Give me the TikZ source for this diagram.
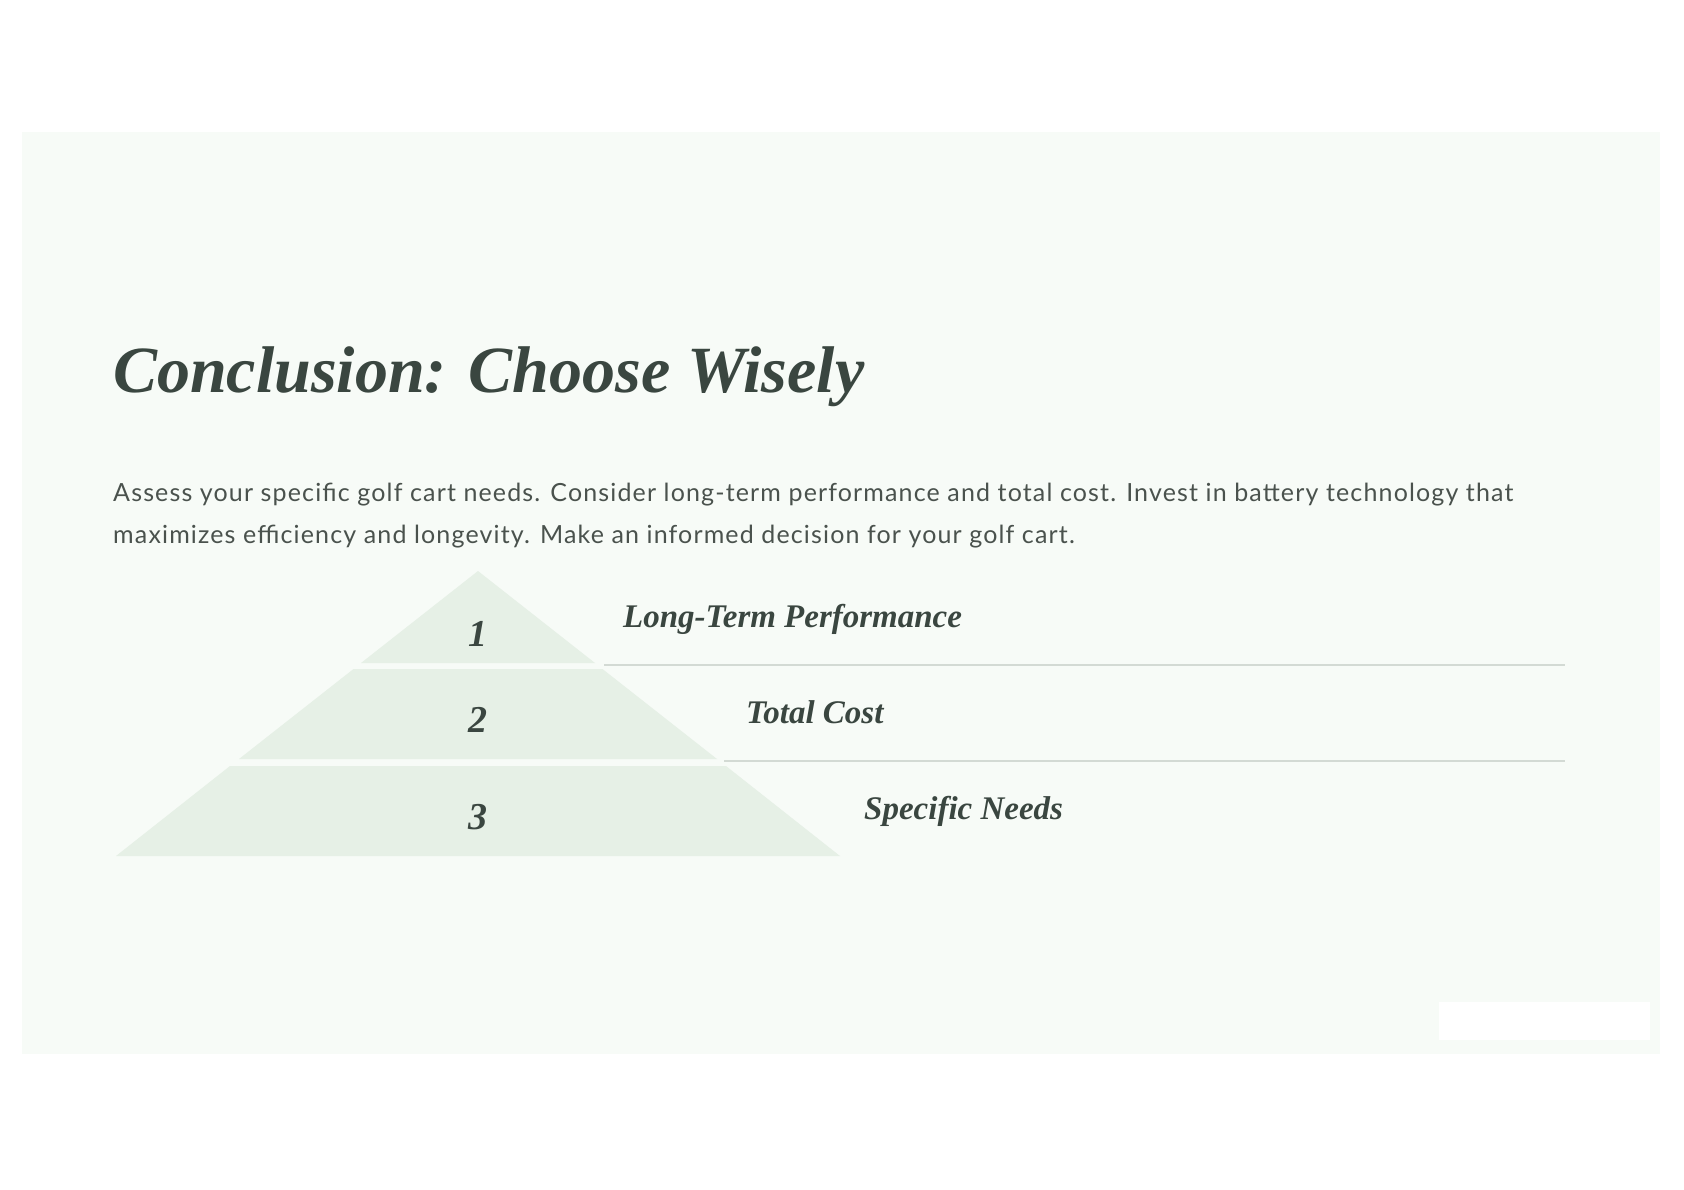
\documentclass[tikz,border=0pt]{standalone}
\usepackage{fontspec}
\setmainfont{Liberation Serif}
\newfontfamily\bodyfont[LetterSpace=4.6]{Lato}
\usetikzlibrary{positioning}

\definecolor{panelbg}{HTML}{F7FBF7}
\definecolor{tierfill}{HTML}{E6F0E6}
\definecolor{inkdark}{HTML}{3A4640}
\definecolor{inkbody}{HTML}{4A524D}
\definecolor{rulegray}{HTML}{D3DAD4}

\tikzset{
  headline/.style={anchor=base west,inner sep=0pt,text=inkdark,font=\fontsize{66}{70}\selectfont\bfseries\itshape},
  bodytext/.style={anchor=base west,inner sep=0pt,text=inkbody,align=left,font=\bodyfont\fontsize{25}{42}\selectfont},
  tier/.style={fill=tierfill,draw=none},
  tiernum/.style={inner sep=0pt,text=inkdark,font=\fontsize{38}{40}\selectfont\bfseries\itshape},
  tierlabel/.style={anchor=base west,inner sep=0pt,text=inkdark,font=\fontsize{33}{36}\selectfont\bfseries\itshape},
  divider/.style={draw=rulegray,line width=2pt}
}

\begin{document}
\begin{tikzpicture}[x=1pt,y=-1pt]
\useasboundingbox (0,0) rectangle (1684,1190);
\fill[white] (0,0) rectangle (1684,1190);
\fill[panelbg] (22,132) rectangle (1660,1054);
\fill[white] (1439,1002) rectangle (1650,1040);

\node[headline] (title) at (113,392) {Conclusion: Choose Wisely};
\node[bodytext] (intro) at (113,543) {Assess your specific golf cart needs. Consider long-term performance and total cost. Invest in battery technology that\\
maximizes efficiency and longevity. Make an informed decision for your golf cart.};

% pyramid
\fill[tier] (478,571) -- (595,663) -- (361,663) -- cycle;
\fill[tier] (353.5,669) -- (602.5,669) -- (717,759) -- (239,759) -- cycle;
\fill[tier] (230,766) -- (726,766) -- (840,856) -- (116,856) -- cycle;

\node[tiernum] (n1) at (478,634) {1};
\node[tiernum] (n2) at (478,720) {2};
\node[tiernum] (n3) at (478,817) {3};

\node[tierlabel] (perf) at (623,627) {Long-Term Performance};
\node[tierlabel] (cost) at (746,723) {Total Cost};
\node[tierlabel] (needs) at (864,819) {Specific Needs};

\coordinate (r1a) at (604,665);
\coordinate (r1b) at (1565,665);
\coordinate (r2a) at (724,761);
\coordinate (r2b) at (1565,761);
\draw[divider] (r1a) -- (r1b);
\draw[divider] (r2a) -- (r2b);
\end{tikzpicture}
\end{document}
